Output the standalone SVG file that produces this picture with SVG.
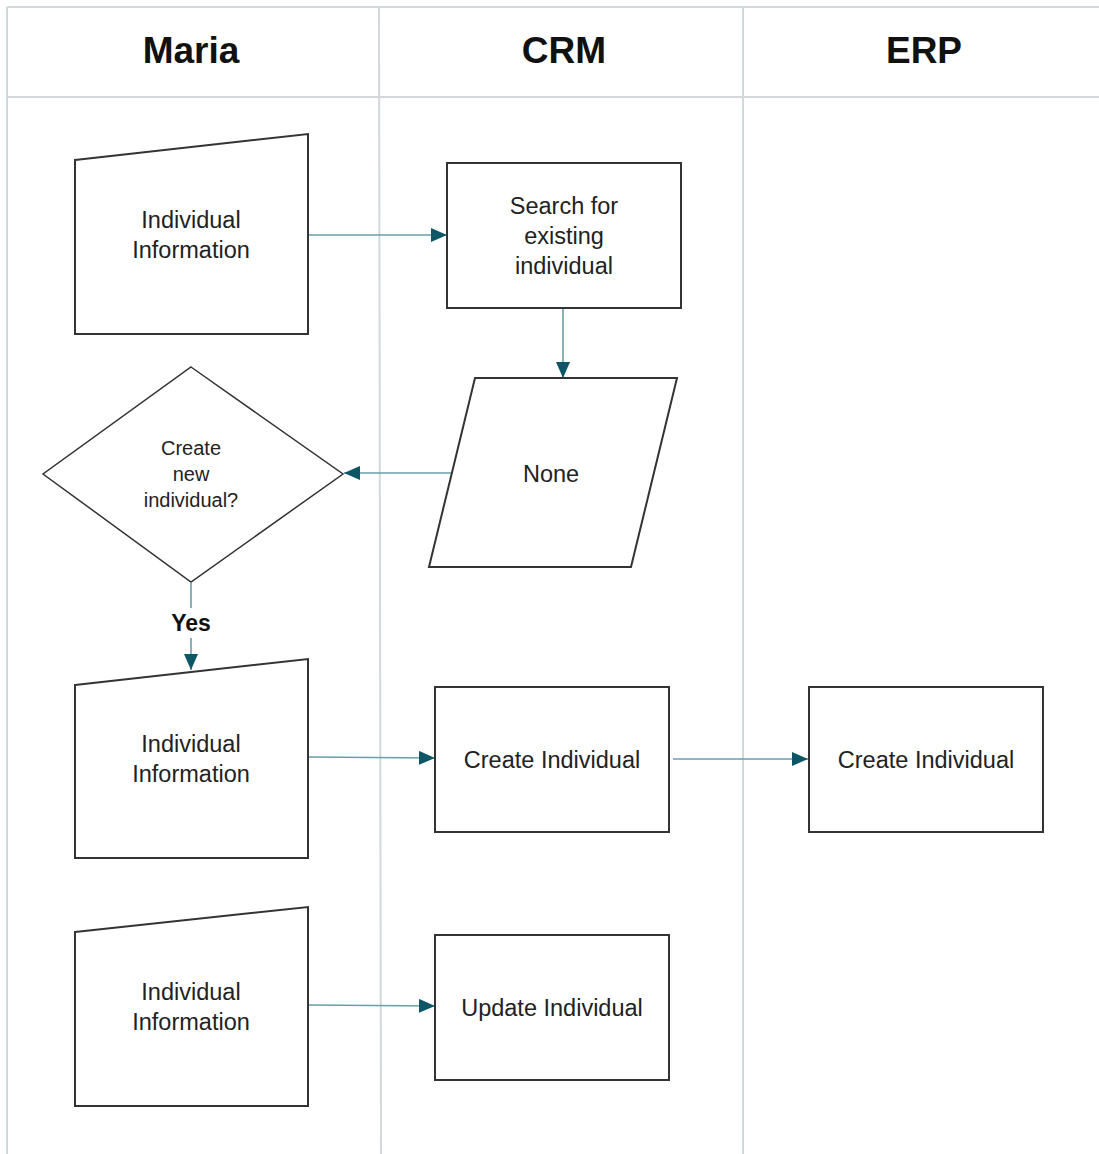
<svg xmlns="http://www.w3.org/2000/svg" width="1099" height="1154" viewBox="0 0 1099 1154">
<style>
.lane{stroke:#d3d8db;stroke-width:2;fill:none}
.hdr{font-family:"Liberation Sans",Arial,sans-serif;font-weight:bold;font-size:37px;fill:#111;text-anchor:middle}
.shape{fill:#fff;stroke:#333;stroke-width:2}
.t{font-family:"Liberation Sans",Arial,sans-serif;font-size:23.5px;fill:#222;text-anchor:middle}
.ts{font-family:"Liberation Sans",Arial,sans-serif;font-size:20px;fill:#222;text-anchor:middle}
.lbl{font-family:"Liberation Sans",Arial,sans-serif;font-weight:bold;font-size:23px;fill:#111;text-anchor:middle}
.conn{stroke:#6a9eab;stroke-width:1.6;fill:none;marker-end:url(#ah)}
</style>
<defs>
<marker id="ah" viewBox="0 0 16 14" refX="16" refY="7" markerWidth="16" markerHeight="14" markerUnits="userSpaceOnUse" orient="auto">
<path d="M0,0 L16,7 L0,14 Z" fill="#0c5665"/>
</marker>
</defs>
<rect width="1099" height="1154" fill="#fff"/>
<g id="lanes">
<line class="lane" x1="7" y1="7" x2="1099" y2="7"/>
<line class="lane" x1="7" y1="97" x2="1099" y2="97"/>
<line class="lane" x1="7" y1="7" x2="7" y2="1154"/>
<line class="lane" x1="379" y1="7" x2="381" y2="1154"/>
<line class="lane" x1="743" y1="7" x2="743" y2="1154"/>
<text class="hdr" x="191" y="63">Maria</text>
<text class="hdr" x="564" y="63">CRM</text>
<text class="hdr" x="924" y="63">ERP</text>
</g>
<g id="connectors">
<line class="conn" x1="309" y1="235" x2="447" y2="235"/>
<line class="conn" x1="563" y1="309" x2="563" y2="378"/>
<line class="conn" x1="453" y1="473" x2="344" y2="473"/>
<line class="conn" x1="191" y1="583" x2="191" y2="608" style="marker-end:none"/>
<line class="conn" x1="191" y1="638" x2="191" y2="670"/>
<line class="conn" x1="309" y1="757" x2="435" y2="758"/>
<line class="conn" x1="673" y1="759" x2="808" y2="759"/>
<line class="conn" x1="309" y1="1005" x2="435" y2="1006"/>
<text class="lbl" x="191" y="631">Yes</text>
</g>
<g id="mi1">
<polygon class="shape" points="75,160 308,134 308,334 75,334"/>
<text class="t" x="191" y="228">Individual</text>
<text class="t" x="191" y="258">Information</text>
</g>
<g id="search">
<rect class="shape" x="447" y="163" width="234" height="145"/>
<text class="t" x="564" y="214">Search for</text>
<text class="t" x="564" y="244">existing</text>
<text class="t" x="564" y="274">individual</text>
</g>
<g id="none">
<polygon class="shape" points="475,378 677,378 631,567 429,567"/>
<text class="t" x="551" y="482">None</text>
</g>
<g id="decision">
<polygon class="shape" points="191,367 343,474 191,582 43,474" style="stroke-width:1.5"/>
<text class="ts" x="191" y="455">Create</text>
<text class="ts" x="191" y="481">new</text>
<text class="ts" x="191" y="507">individual?</text>
</g>
<g id="mi2">
<polygon class="shape" points="75,685 308,659 308,858 75,858"/>
<text class="t" x="191" y="752">Individual</text>
<text class="t" x="191" y="782">Information</text>
</g>
<g id="crmcreate">
<rect class="shape" x="435" y="687" width="234" height="145"/>
<text class="t" x="552" y="768">Create Individual</text>
</g>
<g id="erpcreate">
<rect class="shape" x="809" y="687" width="234" height="145"/>
<text class="t" x="926" y="768">Create Individual</text>
</g>
<g id="mi3">
<polygon class="shape" points="75,932 308,907 308,1106 75,1106"/>
<text class="t" x="191" y="1000">Individual</text>
<text class="t" x="191" y="1030">Information</text>
</g>
<g id="update">
<rect class="shape" x="435" y="935" width="234" height="145"/>
<text class="t" x="552" y="1016">Update Individual</text>
</g>
</svg>
